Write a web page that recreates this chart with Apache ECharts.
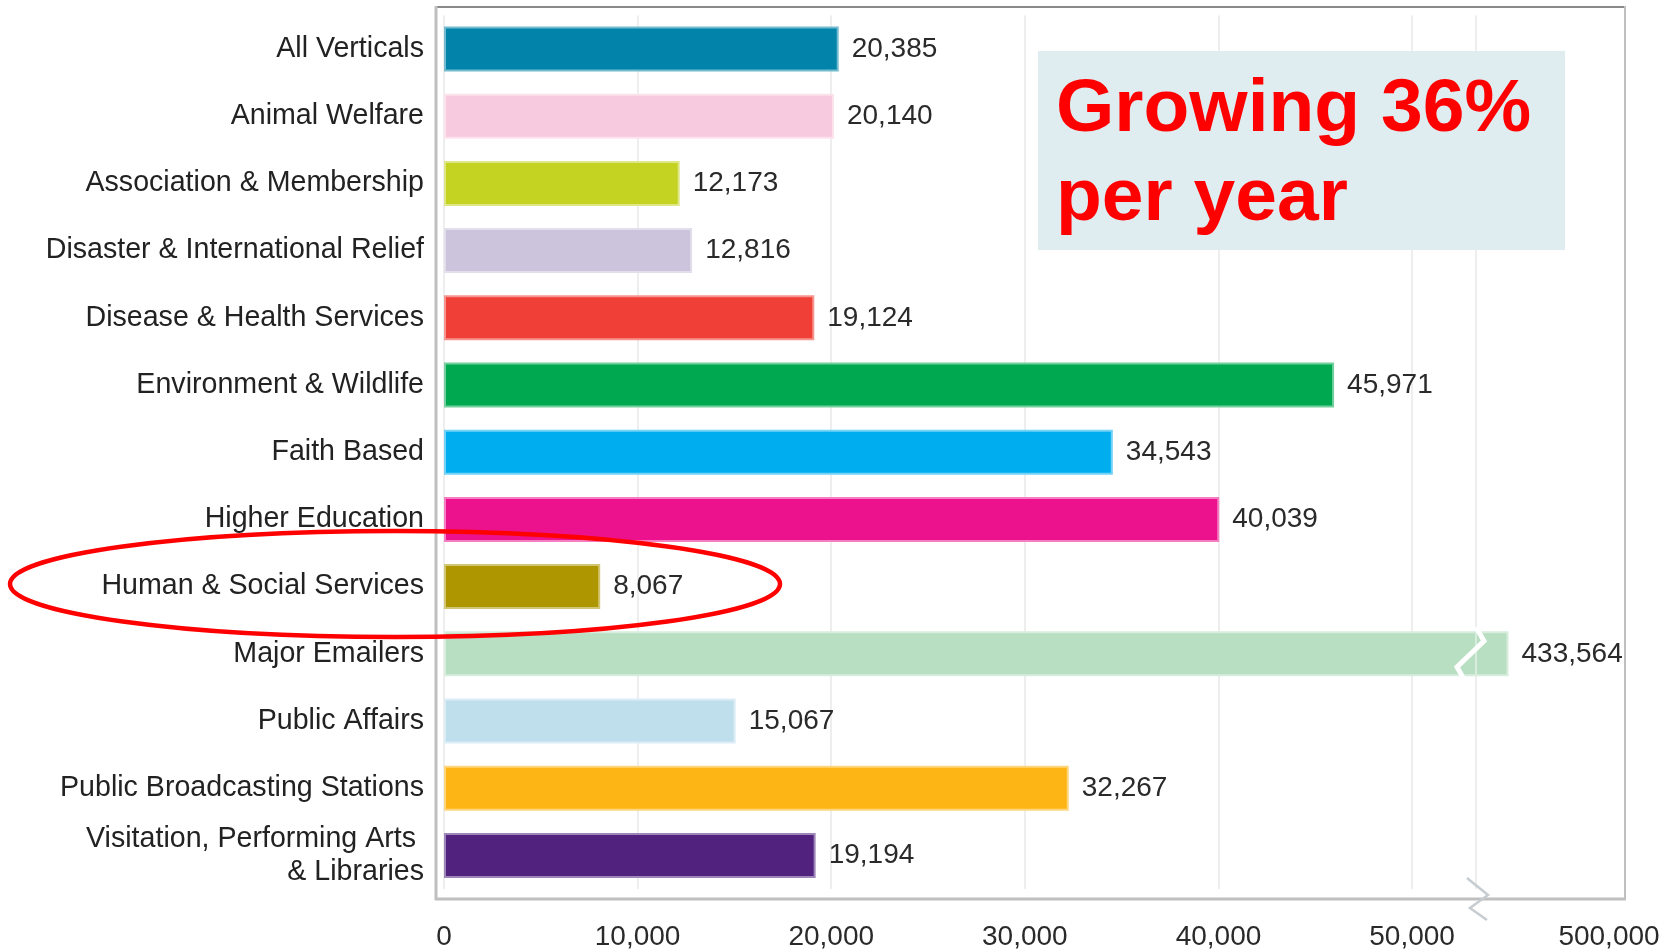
<!DOCTYPE html>
<html><head><meta charset="utf-8">
<script src="https://cdn.jsdelivr.net/npm/echarts@6/dist/echarts.min.js"></script>
<style>html,body{margin:0;padding:0;background:#fff}#chart{width:1669px;height:951px}</style>
</head><body><div id="chart"></div>
<script>
// ---- data ----
const categories = [
  'All Verticals',
  'Animal Welfare',
  'Association & Membership',
  'Disaster & International Relief',
  'Disease & Health Services',
  'Environment & Wildlife',
  'Faith Based',
  'Higher Education',
  'Human & Social Services',
  'Major Emailers',
  'Public Affairs',
  'Public Broadcasting Stations',
  'Visitation, Performing Arts \n& Libraries'
];
const values = [20385, 20140, 12173, 12816, 19124, 45971, 34543, 40039, 8067, 433564, 15067, 32267, 19194];
const tickValues = [0, 10000, 20000, 30000, 40000, 50000, 500000];
const lowMax = 53300;    // end of the first (linear) axis segment, where the axis breaks
const highMin = 415000;  // start of the second axis segment
const highMax = 500000;
const annotationLines = ['Growing 36%', 'per year'];

// ---- styles ----
const barColors = ['#0284AA','#F7CADF','#C4D221','#CCC3DC','#EF3F36','#00A94F','#00AEEF','#EC128E','#AE9600','#B8DFC1','#C0DFEC','#FDB515','#51237F'];
const FONT = '"Liberation Sans", Arial, Helvetica, sans-serif';

function tint(hex, t) {
  const n = parseInt(hex.slice(1), 16);
  const r = (n >> 16) & 255, g = (n >> 8) & 255, b = n & 255;
  const m = c => Math.round(c + (255 - c) * t);
  return 'rgb(' + m(r) + ',' + m(g) + ',' + m(b) + ')';
}
const fmt = v => Number(v).toLocaleString('en-US');

const chart = echarts.init(document.getElementById('chart'), null, {renderer: 'canvas'});

const labelStyle = {
  show: true, position: 'right', distance: 13,
  formatter: p => fmt(p.value),
  fontSize: 28, color: '#2a2a2a', fontFamily: FONT
};

function itemOf(v, i, showLabel) {
  return {
    value: v,
    itemStyle: {color: barColors[i], borderColor: tint(barColors[i], 0.45), borderWidth: 2},
    label: {show: showLabel}
  };
}

const option = {
  animation: false,
  textStyle: {fontFamily: FONT},
  grid: [
    {left: 444, right: 193, top: 15.4, bottom: 61.4},
    {left: 1476, right: 44, top: 15.4, bottom: 61.4}
  ],
  xAxis: [
    {
      gridIndex: 0, type: 'value', min: 0, max: lowMax, interval: 10000,
      axisLine: {show: false}, axisTick: {show: false},
      splitLine: {show: true, lineStyle: {color: '#eeeeee', width: 2}},
      axisLabel: {
        margin: 34, fontSize: 28, color: '#2a2a2a', fontFamily: FONT,
        formatter: v => tickValues.includes(v) ? fmt(v) : ''
      }
    },
    {
      gridIndex: 1, type: 'value', min: highMin, max: highMax,
      axisLine: {show: false}, axisTick: {show: false}, splitLine: {show: false},
      axisLabel: {
        margin: 34, fontSize: 28, color: '#2a2a2a', fontFamily: FONT,
        padding: [0, 32, 0, 0],
        formatter: v => tickValues.includes(v) ? fmt(v) : ''
      }
    }
  ],
  yAxis: [
    {
      gridIndex: 0, type: 'category', data: categories, inverse: true,
      axisLine: {show: false}, axisTick: {show: false}, splitLine: {show: false},
      axisLabel: {margin: 20, fontSize: 28.6, color: '#222', lineHeight: 33, fontFamily: FONT}
    },
    {
      gridIndex: 1, type: 'category', data: categories, inverse: true, show: false
    }
  ],
  series: [
    {
      type: 'bar', xAxisIndex: 0, yAxisIndex: 0, barWidth: 45, clip: true, silent: true,
      label: labelStyle,
      data: values.map((v, i) => itemOf(v, i, v <= lowMax))
    },
    {
      type: 'bar', xAxisIndex: 1, yAxisIndex: 1, barWidth: 45, clip: true, silent: true,
      label: labelStyle,
      data: values.map((v, i) => v >= highMin ? itemOf(v, i, true) : '-')
    }
  ],
  graphic: [
    // plot frame
    {type: 'line', z: 5, shape: {x1: 436, y1: 7, x2: 1626, y2: 7}, style: {stroke: '#8a8a8a', lineWidth: 2}},
    {type: 'line', z: 5, shape: {x1: 436, y1: 6, x2: 436, y2: 900}, style: {stroke: '#bfbfbf', lineWidth: 3}},
    {type: 'line', z: 5, shape: {x1: 435, y1: 899, x2: 1626, y2: 899}, style: {stroke: '#bfbfbf', lineWidth: 3}},
    {type: 'line', z: 5, shape: {x1: 1625, y1: 6, x2: 1625, y2: 900}, style: {stroke: '#bfbfbf', lineWidth: 2}},
    // axis break marks
    {type: 'polyline', z: 20, shape: {points: [[1476, 627], [1484, 641], [1457, 667], [1465, 681]]},
      style: {stroke: '#ffffff', lineWidth: 5, fill: null}},
    {type: 'polyline', z: 20, shape: {points: [[1467, 878], [1488, 895], [1470, 908], [1487, 920]]},
      style: {stroke: '#c6ccd0', lineWidth: 2.5, fill: null}},
    // annotation box
    {type: 'rect', z: 10, shape: {x: 1038, y: 51, width: 527, height: 199}, style: {fill: '#DFEDF1'}},
    {type: 'text', z: 11, x: 1056, y: 110,
      style: {text: annotationLines[0], font: 'bold 75px ' + FONT, fill: '#ff0000', align: 'left', verticalAlign: 'middle'}},
    {type: 'text', z: 11, x: 1056, y: 199,
      style: {text: annotationLines[1], font: 'bold 75px ' + FONT, fill: '#ff0000', align: 'left', verticalAlign: 'middle'}},
    // highlight ellipse
    {type: 'ellipse', z: 100, shape: {cx: 395, cy: 584, rx: 385, ry: 53},
      style: {fill: null, stroke: '#ff0000', lineWidth: 4.5}}
  ]
};
chart.setOption(option);
</script>
</body></html>
